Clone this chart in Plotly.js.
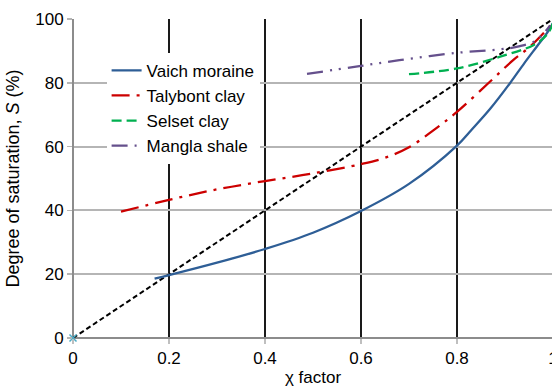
<!DOCTYPE html>
<html>
<head>
<meta charset="utf-8">
<script src="https://cdn.plot.ly/plotly-3.0.1.min.js"></script>
<style>
html, body { margin: 0; padding: 0; overflow: hidden; background: #fff; }
#chart { width: 560px; height: 387px; }
</style>
</head>
<body>
<div id="chart"></div>
<script>
// Vaich moraine
const vaichX = [0.17, 0.2, 0.3, 0.4, 0.5, 0.6, 0.7, 0.8, 0.83, 0.87, 0.91, 0.94, 0.966, 0.987, 1.0];
const vaichS = [18.6, 19.7, 23.6, 27.9, 33.0, 39.8, 48.3, 60.3, 65.2, 72.0, 79.8, 86.1, 91.3, 95.5, 98.7];
// Talybont clay
const talyX = [0.1, 0.2, 0.3, 0.4, 0.5, 0.6, 0.65, 0.7, 0.75, 0.8, 0.869, 0.917, 0.952, 0.987, 1.0];
const talyS = [39.6, 43.3, 46.6, 49.2, 51.6, 54.5, 56.5, 59.8, 65.0, 70.9, 80.4, 87.1, 91.3, 96.6, 98.7];
// Selset clay
const selsetX = [0.7, 0.8, 0.89, 0.959, 0.987, 1.0];
const selsetS = [82.7, 84.5, 88.2, 91.8, 95.0, 98.7];
// Mangla shale
const manglaX = [0.4875, 0.6, 0.68, 0.8, 0.89, 0.931, 0.966, 0.994];
const manglaS = [82.8, 85.3, 87.1, 89.4, 90.5, 91.5, 93.4, 98.0];
// 1:1 line
const lineX = [0, 1];
const lineS = [0, 100];
// origin point
const originX = [0];
const originS = [0];

const seriesNames = ['Vaich moraine', 'Talybont clay', 'Selset clay', 'Mangla shale'];
const xTitle = 'χ factor';
const yTitle = 'Degree of saturation, <i>S</i> (%)';

const FONT = 'Liberation Sans, Arial, sans-serif';

const traces = [
  { x: lineX, y: lineS, mode: 'lines', showlegend: false, hoverinfo: 'skip',
    line: { color: '#000000', width: 2, dash: '5px,3px' } },
  { x: vaichX, y: vaichS, name: seriesNames[0], mode: 'lines', legendgroup: 'a',
    line: { color: '#2E5E96', width: 2.3, shape: 'spline' } },
  { x: talyX, y: talyS, name: seriesNames[1], mode: 'lines', legendgroup: 'b',
    line: { color: '#CC0000', width: 2.3, shape: 'spline', dash: '18px,7px,3px,7px' } },
  { x: selsetX, y: selsetS, name: seriesNames[2], mode: 'lines', legendgroup: 'c',
    line: { color: '#00B050', width: 2.3, shape: 'spline', dash: '10px,5px' } },
  { x: manglaX, y: manglaS, name: seriesNames[3], mode: 'lines', legendgroup: 'd',
    line: { color: '#65508C', width: 2.3, shape: 'spline', dash: '16px,7px,2px,7px,2px,7px' } },
  { x: originX, y: originS, mode: 'markers', showlegend: false, cliponaxis: false,
    marker: { symbol: 'x-thin-open', size: 7, color: '#4BACC6', line: { color: '#4BACC6', width: 1.5 } } }
];

const layout = {
  width: 560, height: 387,
  margin: { l: 73, r: 7, t: 19, b: 49 },
  paper_bgcolor: '#ffffff', plot_bgcolor: '#ffffff',
  font: { family: FONT, size: 17, color: '#000000' },
  showlegend: true,
  legend: {
    x: 0.07, xanchor: 'left', y: 0.894, yanchor: 'top',
    bgcolor: '#ffffff', borderwidth: 0,
    font: { family: FONT, size: 17, color: '#000000' },
    traceorder: 'normal', tracegroupgap: 0
  },
  xaxis: {
    range: [0, 1], dtick: 0.2, tick0: 0,
    showgrid: true, gridcolor: '#1a1a1a', gridwidth: 1.5,
    zeroline: true, zerolinecolor: '#8c8c8c', zerolinewidth: 2,
    showline: false,
    ticks: 'outside', ticklen: 5, tickcolor: '#bfbfbf', tickwidth: 1.5,
    tickfont: { family: FONT, size: 17, color: '#000' },
    title: { text: xTitle, font: { family: FONT, size: 17, color: '#000' }, standoff: 8 }
  },
  yaxis: {
    range: [0, 100], dtick: 20, tick0: 0,
    showgrid: true, gridcolor: '#b5b5b5', gridwidth: 2,
    zeroline: true, zerolinecolor: '#8c8c8c', zerolinewidth: 2,
    showline: false,
    ticks: 'outside', ticklen: 5, tickcolor: '#b5b5b5', tickwidth: 1.5,
    tickfont: { family: FONT, size: 17, color: '#000' },
    title: { text: yTitle, font: { family: FONT, size: 18, color: '#000' }, standoff: 10 }
  }
};

Plotly.newPlot('chart', traces, layout, { displayModeBar: false, staticPlot: true });
</script>
</body>
</html>
